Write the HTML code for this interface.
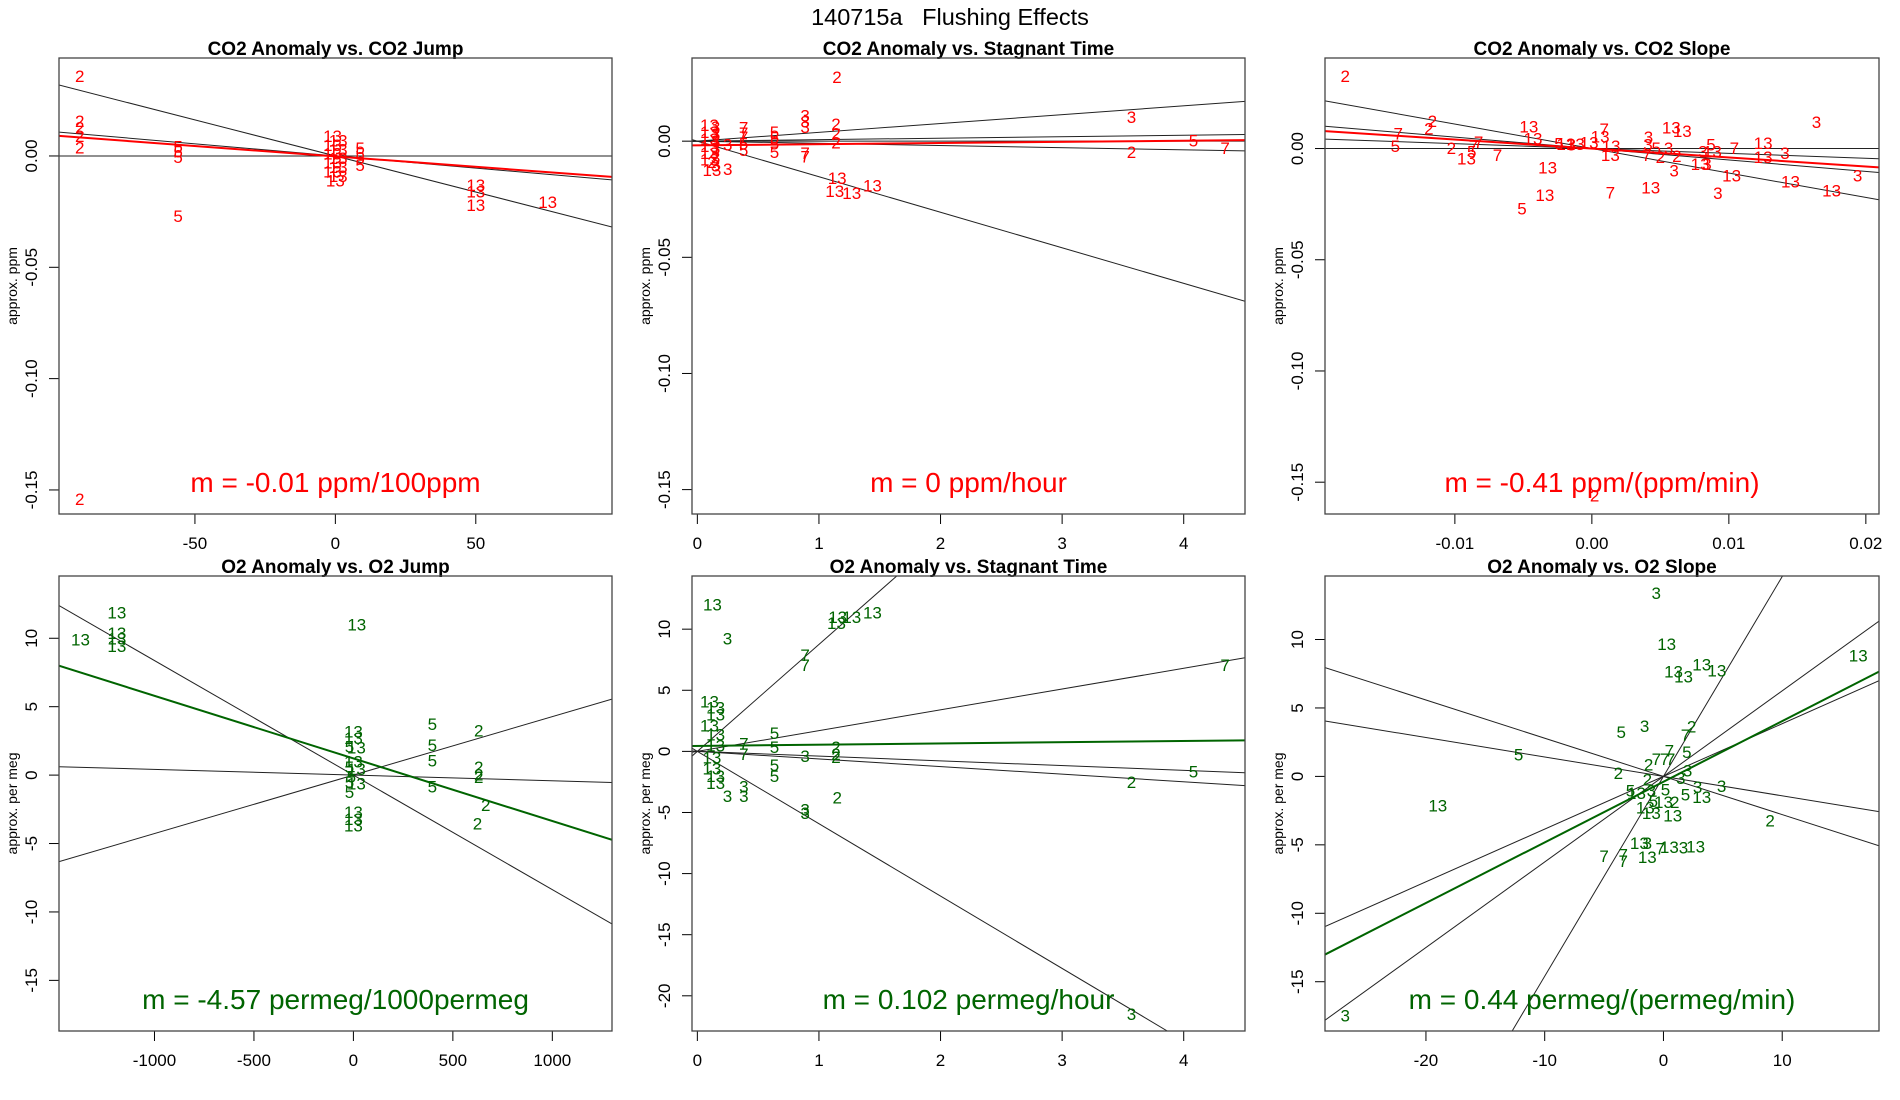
<!DOCTYPE html>
<html><head><meta charset="utf-8"><style>
html,body{margin:0;padding:0;background:#fff;width:1900px;height:1100px;overflow:hidden;}
svg{display:block;font-family:"Liberation Sans",Arial,sans-serif;}
</style></head><body>
<svg id="chart" width="1900" height="1100" viewBox="0 0 1900 1100" xmlns="http://www.w3.org/2000/svg">
<rect width="1900" height="1100" fill="#fff"/>
<text x="950" y="25" font-size="23.5" text-anchor="middle" style="white-space:pre">140715a   Flushing Effects</text>
</svg>
<script>
// ---------- Panel 1: CO2 Anomaly vs CO2 Jump ----------
const p1Labels=["2","2","2","2","2","2","5","5","5","5","13","13","13","13","13","13","13","13","13","13","13","5","5","5","5","13","13","13","13"];
const p1X=[-91,-91,-91,-91,-91,-91,-56,-56,-56,-56,-1,1,-1,1,-1,1,-1,1,-1,1,0,8.8,8.8,8.8,8.8,50,50,50,75.6];
const p1Y=[0.036,0.0156,0.0127,0.009,0.0039,-0.154,0.0043,0.002,-0.0005,-0.027,0.009,0.007,0.005,0.003,0.001,-0.001,-0.003,-0.005,-0.007,-0.009,-0.011,0.0035,0.001,-0.001,-0.004,-0.013,-0.016,-0.022,-0.0206];
const p1BlackSlopes=[0,-0.000324,-0.000109];
const p1BlackIntercepts=[0,0,0];
const p1FitSlope=-0.0000935, p1FitIntercept=-0.0002;
const p1XTicks=[-50,0,50], p1XTickLabels=["-50","0","50"];
const p1YTicks=[0,-0.05,-0.10,-0.15], p1YTickLabels=["0.00","-0.05","-0.10","-0.15"];
const p1XDomain=[-98.4,98.5], p1YDomain=[-0.1608,0.044];

// ---------- Panel 2: CO2 Anomaly vs Stagnant Time ----------
const p2Labels=["2","3","2","5","7","3","3","3","2","2","2","7","7","13","13","13","13","13","13","13","13","13","13","13","3","3","3","3","3","3","3","3","2","7","7","7","5","5","5","5","5","5"];
const p2X=[1.148,3.57,3.57,4.08,4.34,0.886,0.886,0.886,1.14,1.14,1.14,0.886,0.886,1.15,1.13,1.27,1.44,0.1,0.1,0.1,0.1,0.1,0.1,0.12,0.15,0.15,0.15,0.15,0.15,0.15,0.25,0.25,0.12,0.38,0.38,0.38,0.38,0.38,0.634,0.634,0.634,0.634];
const p2Y=[0.0277,0.0103,-0.0046,0.0002,-0.003,0.011,0.0085,0.006,0.0074,0.0034,-0.0006,-0.005,-0.0067,-0.0159,-0.0215,-0.0223,-0.019,0.007,0.004,0.001,-0.002,-0.005,-0.008,-0.0125,0.006,0.003,0,-0.003,-0.007,-0.0105,-0.0119,-0.0014,-0.009,0.0058,0.0035,0.0018,-0.0038,-0.001,0.004,0.0015,-0.001,-0.0046];
const p2BlackSlopes=[0,0.0038,0.00064,-0.00093,-0.0153];
const p2BlackIntercepts=[0,0,0,0,0];
const p2FitSlope=0.0005, p2FitIntercept=-0.0018;
const p2XTicks=[0,1,2,3,4], p2XTickLabels=["0","1","2","3","4"];
const p2YTicks=[0,-0.05,-0.10,-0.15], p2YTickLabels=["0.00","-0.05","-0.10","-0.15"];
const p2XDomain=[-0.044,4.504], p2YDomain=[-0.1605,0.0358];

// ---------- Panel 3: CO2 Anomaly vs CO2 Slope ----------
const p3Labels=["2","2","2","7","5","2","13","5","7","7","7","13","13","13","13","5","5","13","3","13","13","13","7","13","13","7","3","3","7","5","2","3","13","13","2","3","13","13","3","5","13","3","3","7","13","13","13","3","3","13","13","3","2"];
const p3X=[-0.018,-0.01164,-0.0119,-0.01413,-0.01434,-0.01026,-0.00915,-0.00877,-0.00865,-0.00827,-0.00689,-0.0046,-0.0043,-0.00323,-0.00343,-0.0051,-0.0024,-0.0019,-0.0015,-0.0012,-0.0002,0.0006,0.0009,0.0014,0.00135,0.00135,0.00413,0.0041,0.004,0.0047,0.005,0.0056,0.0058,0.0066,0.0062,0.006,0.0043,0.0079,0.0081,0.0087,0.0088,0.0084,0.0092,0.0104,0.0102,0.0125,0.0125,0.0141,0.0164,0.0145,0.0175,0.0194,0.0002];
const p3Y=[0.0327,0.0123,0.0091,0.0067,0.0011,0.0003,-0.0045,-0.0013,0.0011,0.003,-0.0029,0.0099,0.0046,-0.0085,-0.021,-0.0269,0.0022,0.002,0.0018,0.002,0.0027,0.0054,0.0088,0.0011,-0.0029,-0.0197,0.0051,0.0019,-0.0029,0.0003,-0.0037,0.0003,0.0095,0.0079,-0.0034,-0.0098,-0.0176,-0.0069,-0.0013,0.0019,-0.0013,-0.0069,-0.02,0.0003,-0.0122,0.0024,-0.0037,-0.0021,0.0119,-0.0149,-0.0189,-0.0122,-0.156];
const p3BlackSlopes=[0,-1.10,-0.514,-0.218];
const p3BlackIntercepts=[0,0,0,0];
const p3FitSlope=-0.403, p3FitIntercept=0;
const p3XTicks=[-0.01,0,0.01,0.02], p3XTickLabels=["-0.01","0.00","0.01","0.02"];
const p3YTicks=[0,-0.05,-0.10,-0.15], p3YTickLabels=["0.00","-0.05","-0.10","-0.15"];
const p3XDomain=[-0.01948,0.02096], p3YDomain=[-0.1643,0.0407];

// ---------- Panel 4: O2 Anomaly vs O2 Jump ----------
const p4Labels=["13","13","13","13","13","13","13","13","5","13","13","5","13","5","5","13","5","13","13","13","5","5","5","5","2","2","2","2","2","2"];
const p4X=[-1189,-1372,-1189,-1189,-1189,17,0,0,-20,15,0,-20,15,-10,-20,15,-20,0,0,0,397,397,397,397,630,630,630,630,665,624];
const p4Y=[11.9,9.9,10.4,10.0,9.45,11.0,3.2,2.7,2.1,2.0,1.0,0.6,0.45,-0.1,-0.5,-0.6,-1.25,-2.7,-3.2,-3.7,3.75,2.2,1.05,-0.85,3.25,0.6,0.05,-0.15,-2.2,-3.55];
const p4BlackSlopes=[-0.00837,0.004273,-0.000414];
const p4BlackIntercepts=[0,0,0];
const p4FitSlope=-0.004576, p4FitIntercept=1.22;
const p4XTicks=[-1000,-500,0,500,1000], p4XTickLabels=["-1000","-500","0","500","1000"];
const p4YTicks=[10,5,0,-5,-10,-15], p4YTickLabels=["10","5","0","-5","-10","-15"];
const p4XDomain=[-1480,1300], p4YDomain=[-18.7,14.55];

// ---------- Panel 5: O2 Anomaly vs Stagnant Time ----------
const p5Labels=["13","3","13","13","13","13","7","7","7","13","13","13","13","13","13","13","13","13","13","3","3","3","7","7","5","5","5","5","3","3","3","2","2","2","2","5","2","3"];
const p5X=[0.124,0.248,1.154,1.144,1.27,1.44,0.886,0.886,4.34,0.1,0.15,0.15,0.1,0.15,0.15,0.12,0.12,0.15,0.15,0.248,0.383,0.383,0.383,0.383,0.634,0.634,0.634,0.634,0.886,0.886,0.886,1.14,1.14,1.14,1.15,4.08,3.57,3.57];
const p5Y=[12.0,9.24,11.0,10.5,11.0,11.37,7.87,7.06,7.06,4.1,3.6,3.0,2.1,1.4,0.5,-0.5,-1.4,-2.0,-2.6,-3.67,-2.86,-3.67,0.64,-0.23,1.5,0.35,-1.1,-2.0,-0.38,-4.75,-5.04,0.35,-0.23,-0.47,-3.79,-1.63,-2.5,-21.5];
const p5BlackSlopes=[8.75,1.70,-0.388,-0.622,-5.92];
const p5BlackIntercepts=[0,0,0,0,0];
const p5FitSlope=0.102, p5FitIntercept=0.445;
const p5XTicks=[0,1,2,3,4], p5XTickLabels=["0","1","2","3","4"];
const p5YTicks=[10,5,0,-5,-10,-15,-20], p5YTickLabels=["10","5","0","-5","-10","-15","-20"];
const p5XDomain=[-0.044,4.504], p5YDomain=[-22.88,14.35];

// ---------- Panel 6: O2 Anomaly vs O2 Slope ----------
const p6Labels=["3","13","13","13","13","13","13","5","3","2","7","5","7","5","2","2","7","7","7","3","3","2","3","3","5","13","3","5","5","13","5","13","2","13","13","13","13","2","13","3","7","13","3","13","7","7","7","13","3"];
const p6X=[-0.61,0.27,0.85,1.69,3.22,4.5,16.4,-3.56,-1.59,2.37,1.86,-12.2,0.5,1.97,-3.8,-1.25,-0.6,0.1,0.6,2.03,1.46,-1.36,2.88,4.9,-2.78,-2.27,-1.02,0.17,1.86,3.22,-0.85,0,0.95,-1.53,-1.02,0.78,-19.0,8.98,-2.03,-1.36,-0.27,0.5,1.69,2.71,-5.0,-3.39,-3.39,-1.36,-26.8];
const p6Y=[13.4,9.69,7.65,7.28,8.17,7.73,8.82,3.24,3.68,3.63,3.03,1.59,1.9,1.78,0.23,0.86,1.28,1.28,1.28,0.42,-0.1,-0.23,-0.76,-0.7,-1.02,-1.2,-1.02,-0.94,-1.33,-1.49,-1.8,-1.88,-1.88,-2.27,-2.66,-2.85,-2.14,-3.24,-4.88,-4.88,-5.25,-5.14,-5.2,-5.12,-5.8,-5.72,-6.19,-5.9,-17.47];
const p6BlackSlopes=[1.46,0.625,0.385,-0.279,-0.142];
const p6BlackIntercepts=[0,0,0,0,0];
const p6FitSlope=0.443, p6FitIntercept=-0.39;
const p6XTicks=[-20,-10,0,10], p6XTickLabels=["-20","-10","0","10"];
const p6YTicks=[10,5,0,-5,-10,-15], p6YTickLabels=["10","5","0","-5","-10","-15"];
const p6XDomain=[-28.5,18.15], p6YDomain=[-18.6,14.64];

const NS="http://www.w3.org/2000/svg";
const svg=document.getElementById('chart');
function mk(tag,attrs,parent){const e=document.createElementNS(NS,tag);for(const k in attrs)e.setAttribute(k,attrs[k]);(parent||svg).appendChild(e);return e;}

const panels=[
 {key:"co2-jump",title:"CO2 Anomaly vs. CO2 Jump",ylab:"approx. ppm",m:"m = -0.01 ppm/100ppm",color:"#ff0000",box:[59,612,58,514],
  labels:p1Labels,xs:p1X,ys:p1Y,bs:p1BlackSlopes,bi:p1BlackIntercepts,fs:p1FitSlope,fi:p1FitIntercept,xt:p1XTicks,xtl:p1XTickLabels,yt:p1YTicks,ytl:p1YTickLabels,xd:p1XDomain,yd:p1YDomain},
 {key:"co2-stagnant",title:"CO2 Anomaly vs. Stagnant Time",ylab:"approx. ppm",m:"m = 0 ppm/hour",color:"#ff0000",box:[692,1245,58,514],
  labels:p2Labels,xs:p2X,ys:p2Y,bs:p2BlackSlopes,bi:p2BlackIntercepts,fs:p2FitSlope,fi:p2FitIntercept,xt:p2XTicks,xtl:p2XTickLabels,yt:p2YTicks,ytl:p2YTickLabels,xd:p2XDomain,yd:p2YDomain},
 {key:"co2-slope",title:"CO2 Anomaly vs. CO2 Slope",ylab:"approx. ppm",m:"m = -0.41 ppm/(ppm/min)",color:"#ff0000",box:[1325,1879,58,514],
  labels:p3Labels,xs:p3X,ys:p3Y,bs:p3BlackSlopes,bi:p3BlackIntercepts,fs:p3FitSlope,fi:p3FitIntercept,xt:p3XTicks,xtl:p3XTickLabels,yt:p3YTicks,ytl:p3YTickLabels,xd:p3XDomain,yd:p3YDomain},
 {key:"o2-jump",title:"O2 Anomaly vs. O2 Jump",ylab:"approx. per meg",m:"m = -4.57 permeg/1000permeg",color:"#006400",box:[59,612,576,1031],
  labels:p4Labels,xs:p4X,ys:p4Y,bs:p4BlackSlopes,bi:p4BlackIntercepts,fs:p4FitSlope,fi:p4FitIntercept,xt:p4XTicks,xtl:p4XTickLabels,yt:p4YTicks,ytl:p4YTickLabels,xd:p4XDomain,yd:p4YDomain},
 {key:"o2-stagnant",title:"O2 Anomaly vs. Stagnant Time",ylab:"approx. per meg",m:"m = 0.102 permeg/hour",color:"#006400",box:[692,1245,576,1031],
  labels:p5Labels,xs:p5X,ys:p5Y,bs:p5BlackSlopes,bi:p5BlackIntercepts,fs:p5FitSlope,fi:p5FitIntercept,xt:p5XTicks,xtl:p5XTickLabels,yt:p5YTicks,ytl:p5YTickLabels,xd:p5XDomain,yd:p5YDomain},
 {key:"o2-slope",title:"O2 Anomaly vs. O2 Slope",ylab:"approx. per meg",m:"m = 0.44 permeg/(permeg/min)",color:"#006400",box:[1325,1879,576,1031],
  labels:p6Labels,xs:p6X,ys:p6Y,bs:p6BlackSlopes,bi:p6BlackIntercepts,fs:p6FitSlope,fi:p6FitIntercept,xt:p6XTicks,xtl:p6XTickLabels,yt:p6YTicks,ytl:p6YTickLabels,xd:p6XDomain,yd:p6YDomain}
];

// clip line y = a + b x to the domain box; returns [x0,x1] or null
function clipRange(a,b,xd,yd){
  let lo=xd[0],hi=xd[1];
  if(b!==0){
    let xa=(yd[0]-a)/b, xb=(yd[1]-a)/b;
    if(xa>xb){const t=xa;xa=xb;xb=t;}
    lo=Math.max(lo,xa);hi=Math.min(hi,xb);
  }
  return lo<hi?[lo,hi]:null;
}

panels.forEach((p,pi)=>{
  const [L,R,T,B]=p.box;
  const sx=v=>L+(v-p.xd[0])/(p.xd[1]-p.xd[0])*(R-L);
  const sy=v=>B-(v-p.yd[0])/(p.yd[1]-p.yd[0])*(B-T);
  const g=mk('g',{});
  
  
  const cp=mk('clipPath',{id:'clip'+pi},g);
  mk('rect',{x:L,y:T,width:R-L,height:B-T},cp);
  const tt=mk('text',{x:(L+R)/2,y:T-3,'font-size':19,'font-weight':'bold','text-anchor':'middle'},g);
  tt.textContent=p.title;
  
  
  const yl=mk('text',{transform:`translate(${L-42},${(T+B)/2}) rotate(-90)`,'font-size':14,'text-anchor':'middle'},g);
  yl.textContent=p.ylab;
  
  
  p.xt.forEach((v,i)=>{
    const x=sx(v);
    const tk=mk('line',{x1:x,x2:x,y1:B,y2:B+10,stroke:'#000','stroke-width':1},g);
    
    
    const tl=mk('text',{x:x,y:B+35,'font-size':17,'text-anchor':'middle'},g);
    tl.textContent=p.xtl[i];
    
    
  });
  p.yt.forEach((v,i)=>{
    const y=sy(v);
    const tk=mk('line',{x1:L-10,x2:L,y1:y,y2:y,stroke:'#000','stroke-width':1},g);
    
    
    const tl=mk('text',{transform:`translate(${L-22},${y}) rotate(-90)`,'font-size':17,'text-anchor':'middle'},g);
    tl.textContent=p.ytl[i];
    
    
  });
  const inner=mk('g',{'clip-path':`url(#clip${pi})`},g);
  p.bs.forEach((s,i)=>{
    const r=clipRange(p.bi[i],s,p.xd,p.yd);
    if(!r) return;
    const ln=mk('line',{x1:sx(r[0]),y1:sy(p.bi[i]+s*r[0]),x2:sx(r[1]),y2:sy(p.bi[i]+s*r[1]),stroke:'#222','stroke-width':1},inner);
    
    
  });
  p.labels.forEach((lab,i)=>{
    const t=mk('text',{x:sx(p.xs[i]),y:sy(p.ys[i])+6,'font-size':17,'text-anchor':'middle',fill:p.color},inner);
    t.textContent=lab;
    
    
  });
  {
    const r=clipRange(p.fi,p.fs,p.xd,p.yd);
    if(r){
      const ln=mk('line',{x1:sx(r[0]),y1:sy(p.fi+p.fs*r[0]),x2:sx(r[1]),y2:sy(p.fi+p.fs*r[1]),stroke:p.color,'stroke-width':2},inner);
      
      
    }
  }
  const mt=mk('text',{x:(L+R)/2,y:B-22,'font-size':28,'text-anchor':'middle',fill:p.color},g);
  mt.textContent=p.m;
  
  
  const fr=mk('rect',{x:L,y:T,width:R-L,height:B-T,fill:'none',stroke:'#444','stroke-width':1.3},g);
  
  
});
</script>
</body></html>
